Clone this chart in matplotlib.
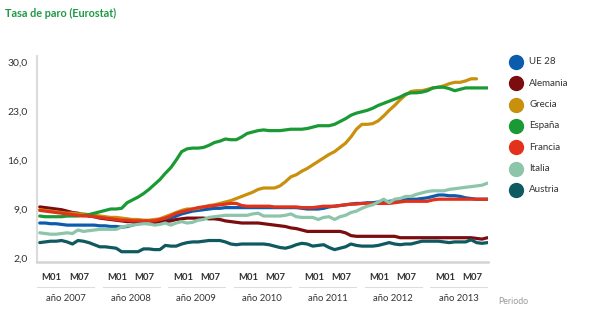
import matplotlib
matplotlib.use("Agg")
import matplotlib.pyplot as plt
from matplotlib.lines import Line2D
from matplotlib.transforms import blended_transform_factory
import numpy as np

plt.rcParams["font.family"] = ["Lato", "DejaVu Sans"]

# Monthly unemployment rate (%), Jan 2007 onwards
years = ["2007", "2008", "2009", "2010", "2011", "2012", "2013"]
y_ticks = [2.0, 9.0, 16.0, 23.0, 30.0]

ue28 = [7.0, 7.0, 6.9, 6.9, 6.8, 6.7, 6.7, 6.7, 6.7, 6.7, 6.7, 6.6,
        6.6, 6.5, 6.5, 6.4, 6.5, 6.7, 7.0, 7.0, 6.9, 6.9, 7.1, 7.3,
        7.7, 8.0, 8.3, 8.5, 8.7, 8.8, 8.9, 9.0, 9.1, 9.1, 9.2, 9.2,
        9.2, 9.2, 9.2, 9.2, 9.2, 9.2, 9.2, 9.2, 9.2, 9.2, 9.2, 9.2,
        9.1, 9.0, 9.0, 9.0, 9.1, 9.3, 9.4, 9.5, 9.6, 9.7, 9.8, 9.8,
        9.9, 9.9, 10.0, 10.0, 10.1, 10.2, 10.3, 10.3, 10.4, 10.4, 10.5, 10.6,
        10.8, 11.0, 11.0, 10.9, 10.9, 10.8, 10.6, 10.5, 10.4, 10.4, 10.4]

alemania = [9.3, 9.2, 9.1, 9.0, 8.9, 8.7, 8.5, 8.4, 8.2, 8.0, 7.9, 7.7,
            7.6, 7.5, 7.4, 7.3, 7.2, 7.2, 7.2, 7.1, 7.0, 7.0, 7.1, 7.2,
            7.3, 7.5, 7.6, 7.7, 7.7, 7.7, 7.7, 7.6, 7.6, 7.5, 7.3, 7.2,
            7.1, 7.0, 7.0, 7.0, 7.0, 6.9, 6.8, 6.7, 6.6, 6.5, 6.3, 6.2,
            6.0, 5.8, 5.8, 5.8, 5.8, 5.8, 5.8, 5.8, 5.6, 5.2, 5.1, 5.1,
            5.1, 5.1, 5.1, 5.1, 5.1, 5.1, 4.9, 4.9, 4.9, 4.9, 4.9, 4.9,
            4.9, 4.9, 4.9, 4.9, 4.9, 4.9, 4.9, 4.9, 4.8, 4.7, 4.9]

grecia = [8.9, 8.8, 8.7, 8.6, 8.5, 8.4, 8.4, 8.3, 8.3, 8.2, 8.1, 8.0,
          7.9, 7.8, 7.8, 7.7, 7.6, 7.5, 7.5, 7.4, 7.4, 7.5, 7.6, 7.9,
          8.2, 8.5, 8.8, 9.0, 9.0, 9.1, 9.3, 9.5, 9.6, 9.8, 10.0, 10.2,
          10.5, 10.8, 11.1, 11.4, 11.8, 12.0, 12.0, 12.0, 12.3, 12.9, 13.6, 13.9,
          14.4, 14.8, 15.3, 15.8, 16.3, 16.8, 17.2, 17.8, 18.4, 19.3, 20.4, 21.1,
          21.1, 21.2, 21.6, 22.3, 23.1, 23.8, 24.6, 25.3, 25.8, 25.9, 25.9, 26.1,
          26.3, 26.4, 26.6, 26.9, 27.1, 27.1, 27.3, 27.6, 27.6]

espana = [8.0, 7.9, 7.9, 7.9, 7.9, 8.0, 8.0, 8.0, 8.1, 8.2, 8.4, 8.6,
          8.8, 9.0, 9.0, 9.1, 9.9, 10.3, 10.7, 11.2, 11.8, 12.5, 13.2, 14.1,
          14.9, 16.0, 17.2, 17.6, 17.7, 17.7, 17.8, 18.1, 18.5, 18.7, 19.0, 18.9,
          18.9, 19.3, 19.8, 20.0, 20.2, 20.3, 20.2, 20.2, 20.2, 20.3, 20.4, 20.4,
          20.4, 20.5, 20.7, 20.9, 20.9, 20.9, 21.1, 21.5, 21.9, 22.4, 22.7, 22.9,
          23.1, 23.4, 23.8, 24.1, 24.4, 24.7, 25.0, 25.4, 25.6, 25.6, 25.7, 25.9,
          26.3, 26.4, 26.4, 26.2, 25.9, 26.1, 26.3, 26.3, 26.3, 26.3, 26.3]

francia = [8.8, 8.7, 8.6, 8.5, 8.4, 8.3, 8.2, 8.1, 8.0, 8.0, 7.9, 7.8,
           7.7, 7.6, 7.5, 7.4, 7.4, 7.3, 7.3, 7.3, 7.3, 7.3, 7.5, 7.7,
           8.0, 8.4, 8.6, 8.8, 9.0, 9.2, 9.3, 9.4, 9.5, 9.6, 9.7, 9.8,
           9.8, 9.5, 9.4, 9.4, 9.4, 9.4, 9.4, 9.3, 9.3, 9.3, 9.3, 9.3,
           9.2, 9.2, 9.2, 9.3, 9.4, 9.4, 9.4, 9.5, 9.6, 9.7, 9.7, 9.8,
           9.8, 9.8, 9.8, 9.8, 9.8, 9.9, 10.0, 10.1, 10.1, 10.1, 10.1, 10.1,
           10.3, 10.4, 10.4, 10.4, 10.4, 10.4, 10.4, 10.4, 10.4, 10.4, 10.4]

italia = [5.6, 5.5, 5.4, 5.4, 5.5, 5.6, 5.5, 6.0, 5.8, 5.9, 6.0, 6.1,
          6.1, 6.1, 6.1, 6.4, 6.6, 6.7, 6.8, 6.9, 6.9, 6.7, 6.8, 7.0,
          6.7, 7.0, 7.2, 7.0, 7.1, 7.4, 7.5, 7.8, 7.9, 8.0, 8.1, 8.1,
          8.1, 8.1, 8.1, 8.3, 8.4, 8.0, 8.0, 8.0, 8.0, 8.1, 8.3, 7.9,
          7.8, 7.8, 7.8, 7.5, 7.8, 7.9, 7.5, 7.9, 8.1, 8.5, 8.7, 9.1,
          9.4, 9.6, 10.0, 10.4, 9.9, 10.4, 10.5, 10.8, 10.8, 11.1, 11.3, 11.5,
          11.6, 11.6, 11.6, 11.8, 11.9, 12.0, 12.1, 12.2, 12.3, 12.4, 12.7]

austria = [4.2, 4.3, 4.4, 4.4, 4.5, 4.3, 4.0, 4.5, 4.4, 4.2, 3.9, 3.6,
           3.6, 3.5, 3.4, 2.9, 2.9, 2.9, 2.9, 3.3, 3.3, 3.2, 3.2, 3.8,
           3.7, 3.7, 4.0, 4.2, 4.3, 4.3, 4.4, 4.5, 4.5, 4.5, 4.3, 4.0,
           3.9, 4.0, 4.0, 4.0, 4.0, 4.0, 3.9, 3.7, 3.5, 3.4, 3.6, 3.9,
           4.1, 4.0, 3.7, 3.8, 3.9, 3.5, 3.2, 3.4, 3.6, 4.0, 3.8, 3.7,
           3.7, 3.7, 3.8, 4.0, 4.2, 4.0, 3.9, 4.0, 4.0, 4.2, 4.4, 4.4,
           4.4, 4.4, 4.3, 4.2, 4.3, 4.3, 4.3, 4.6, 4.2, 4.1, 4.2]

names = ["UE 28", "Alemania", "Grecia", "España", "Francia", "Italia", "Austria"]
series = [ue28, alemania, grecia, espana, francia, italia, austria]
colors = ["#0b5cad", "#7b0c0f", "#c8900c", "#1a9a34", "#e2321c", "#8cc5a9", "#0f5960"]

fig = plt.figure(figsize=(6, 3.11), dpi=100)
ax = fig.add_axes([37 / 600, 49 / 311, 451 / 600, 206 / 311])

for name, vals, c in zip(names, series, colors):
    ax.plot(np.arange(len(vals)), vals, color=c, lw=2.3, solid_capstyle="round")

ax.set_xlim(-0.5, 82.1)
ax.set_ylim(1.43, 30.86)
ax.set_yticks(y_ticks)
ax.set_yticklabels([f"{v:.1f}".replace(".", ",") for v in y_ticks])
ax.set_xticks([])
ax.tick_params(axis="y", length=0, pad=7, labelsize=7.5, labelcolor="#333333")
for s in ["top", "right"]:
    ax.spines[s].set_visible(False)
ax.spines["left"].set_color("#dcdcdc")
ax.spines["left"].set_linewidth(1.5)
ax.spines["bottom"].set_color("#d4d4d4")
ax.spines["bottom"].set_linewidth(1.8)

# category axis: months, underline, year
tr = blended_transform_factory(ax.transData, fig.transFigure)
for k, yr in enumerate(years):
    base = 12 * k
    ax.text(base + 2.2, 0.109, "M01", transform=tr, ha="center", va="center",
            fontsize=6.8, fontweight="bold", color="#333333")
    ax.text(base + 7.2, 0.109, "M07", transform=tr, ha="center", va="center",
            fontsize=6.8, fontweight="bold", color="#333333")
    ax.add_line(Line2D([base - 0.5, base + 10], [0.077, 0.077], transform=tr,
                       color="#dddddd", lw=0.8, clip_on=False))
    ax.text(base + 4.7, 0.039, "año " + yr, transform=tr, ha="center", va="center",
            fontsize=6.8, color="#333333")

fig.text(513 / 600, 1 - 301 / 311, "Periodo", ha="center", va="center",
         fontsize=6.3, color="#999999")

fig.text(5 / 600, 1 - 13 / 311, "Tasa de paro (Eurostat)", ha="left", va="center",
         fontsize=7.8, fontweight="bold", color="#1e9a46")

# legend
for j, (name, c) in enumerate(zip(names, colors)):
    yy = 1 - (62 + 21.3 * j) / 311
    fig.add_artist(Line2D([516 / 600], [yy], marker="o", markersize=10,
                          color=c, transform=fig.transFigure))
    fig.text(529 / 600, yy, name, ha="left", va="center", fontsize=7, color="#333333")

fig.savefig("out.png", dpi=100, facecolor="white")
